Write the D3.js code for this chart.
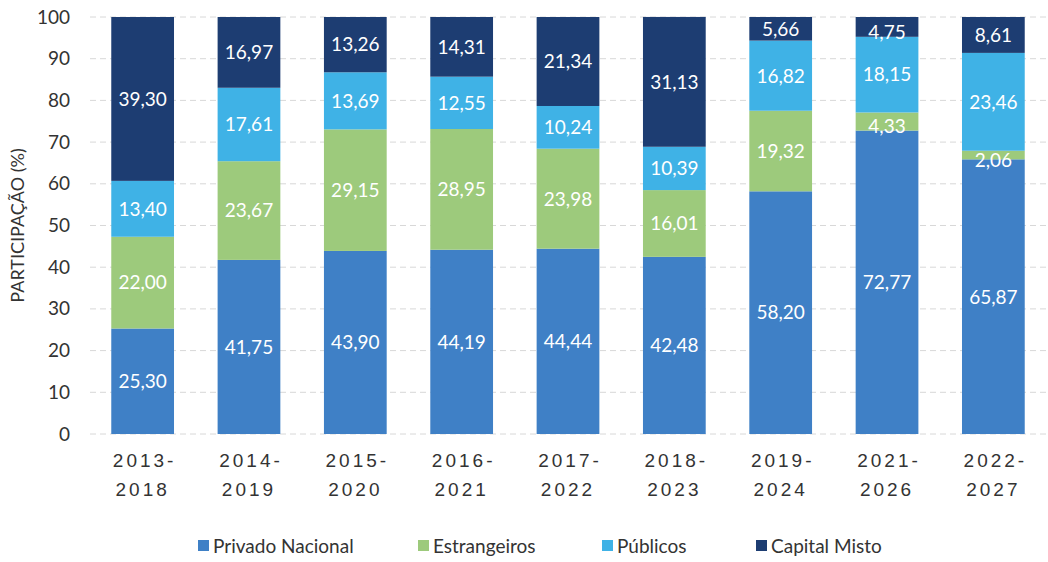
<!DOCTYPE html>
<html>
  <head>
    <meta charset="utf-8">
    <title>Participação (%)</title>
    <script src="https://d3js.org/d3.v7.min.js"></script>
    <style>
      body { margin: 0; background: #fff; }
      svg { font-family: Lato, "Open Sans", sans-serif; }
      .grid line { stroke: #d8d8d8; stroke-dasharray: 6,4; }
      .tick text { fill: #333; }
    </style>
  </head>
  <body>
    <script>
    // chart data
    var periods = ["2013-2018", "2014-2019", "2015-2020", "2016-2021", "2017-2022",
                   "2018-2023", "2019-2024", "2021-2026", "2022-2027"];
    var privadoNacional = [25.30, 41.75, 43.90, 44.19, 44.44, 42.48, 58.20, 72.77, 65.87];
    var estrangeiros    = [22.00, 23.67, 29.15, 28.95, 23.98, 16.01, 19.32, 4.33, 2.06];
    var publicos        = [13.40, 17.61, 13.69, 12.55, 10.24, 10.39, 16.82, 18.15, 23.46];
    var capitalMisto    = [39.30, 16.97, 13.26, 14.31, 21.34, 31.13, 5.66, 4.75, 8.61];
    var seriesNames = ["Privado Nacional", "Estrangeiros", "Públicos", "Capital Misto"];
    var yTicks = [0, 10, 20, 30, 40, 50, 60, 70, 80, 90, 100];

    var colors = ["#3f80c6", "#9dca7c", "#3fb2e6", "#1d3d72"];

    var width = 1048, height = 562;
    var margin = {left: 90, right: 2, top: 17, bottom: 134};

    var svg = d3.select("body").append("svg")
                .attr("width", width)
                .attr("height", height);

    var table = periods.map(function(p, i) {
      return {
        period: p,
        "Privado Nacional": privadoNacional[i],
        "Estrangeiros": estrangeiros[i],
        "Públicos": publicos[i],
        "Capital Misto": capitalMisto[i]
      };
    });
    var stacked = d3.stack().keys(seriesNames)(table);

    var x = d3.scaleBand()
              .domain(periods)
              .range([margin.left, width - margin.right])
              .paddingInner(0.41)
              .paddingOuter(0.2);

    var y = d3.scaleLinear()
              .domain([0, 100])
              .range([height - margin.bottom + 6, margin.top]);

    // gridlines
    svg.append("g")
       .attr("class", "grid")
       .selectAll("line")
       .data(yTicks)
       .enter()
       .append("line")
       .attr("x1", margin.left)
       .attr("x2", width - margin.right)
       .attr("y1", function(d){ return y(d); })
       .attr("y2", function(d){ return y(d); });

    // bars
    var layers = svg.selectAll("g.layer")
       .data(stacked)
       .enter()
       .append("g")
       .attr("class", "layer")
       .attr("fill", function(d, i){ return colors[i]; });

    layers.selectAll("rect")
       .data(function(d){ return d; })
       .enter()
       .append("rect")
       .attr("x", function(d){ return x(d.data.period); })
       .attr("width", x.bandwidth())
       .attr("y", function(d){ return y(d[1]); })
       .attr("height", function(d){ return y(d[0]) - y(d[1]); });

    // value labels, drawn on top of every bar
    var labelData = [];
    stacked.forEach(function(s) {
      s.forEach(function(d){ labelData.push(d); });
    });
    svg.append("g")
       .selectAll("text")
       .data(labelData)
       .enter()
       .append("text")
       .attr("x", function(d){ return x(d.data.period) + x.bandwidth() / 2; })
       .attr("y", function(d){
         var mid = (y(d[0]) + y(d[1])) / 2;
         if (d[1] - d[0] < 5) mid += 5;
         return mid;
       })
       .attr("dy", "0.36em")
       .attr("text-anchor", "middle")
       .attr("fill", "#fff")
       .style("font-size", "19px")
       .text(function(d){ return d3.format(".2f")(d[1] - d[0]).replace(".", ","); });

    // y axis
    var yAxis = d3.axisLeft(y).tickValues(yTicks).tickSize(0).tickPadding(0);
    svg.append("g")
       .attr("transform", "translate(70,0)")
       .call(yAxis)
       .call(function(g){ g.select(".domain").remove(); })
       .selectAll("text")
       .style("font-size", "19px")
       .style("font-family", "Lato, sans-serif");

    svg.append("text")
       .attr("transform", "translate(24," + ((y(0) + y(100)) / 2) + ") rotate(-90)")
       .attr("text-anchor", "middle")
       .style("font-size", "18px")
       .attr("fill", "#333")
       .text("PARTICIPAÇÃO (%)");

    // x axis, two-line labels
    var xAxis = d3.axisBottom(x).tickSize(0).tickPadding(0);
    var xg = svg.append("g")
       .attr("transform", "translate(0," + (y(0)) + ")")
       .call(xAxis)
       .call(function(g){ g.select(".domain").remove(); });
    xg.selectAll("text").each(function(d) {
      var parts = d.split("-");
      var t = d3.select(this).text(null)
                .style("font-size", "19px")
                .style("letter-spacing", "3px")
                .attr("y", 0);
      t.append("tspan").attr("x", 2).attr("dy", "1.75em").text(parts[0] + "-");
      t.append("tspan").attr("x", 0).attr("dy", "1.5em").text(parts[1]);
    });

    // legend
    var legendX = [198, 418, 602, 756];
    var legend = svg.append("g")
       .selectAll("g")
       .data(seriesNames)
       .enter()
       .append("g")
       .attr("transform", function(d, i){ return "translate(" + legendX[i] + ",546)"; });
    legend.append("rect")
       .attr("x", 0).attr("y", -6)
       .attr("width", 11).attr("height", 11)
       .attr("fill", function(d, i){ return colors[i]; });
    legend.append("text")
       .attr("x", 15)
       .attr("dy", "0.36em")
       .style("font-size", "19px")
       .attr("fill", "#333")
       .text(function(d){ return d; });
    </script>
  </body>
</html>
